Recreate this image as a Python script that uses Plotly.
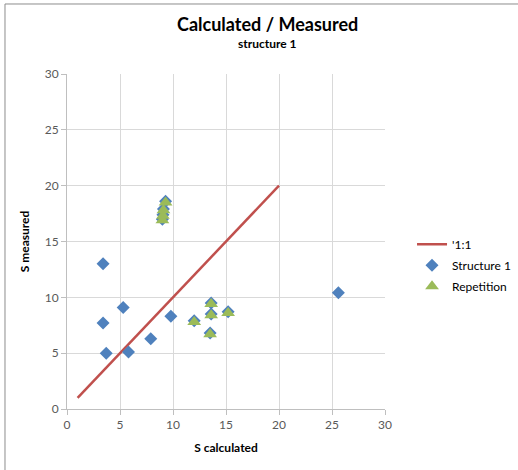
import plotly.graph_objects as go

# 1:1 reference line
line_x = [1, 20]
line_y = [1, 20]

# Structure 1 (blue diamonds)
struct_x = [3.4, 3.4, 3.7, 5.3, 5.8, 7.9, 9.8, 25.6,
            9.0, 9.05, 9.1, 9.3, 12.0, 13.6, 13.6, 13.5, 15.2]
struct_y = [13.0, 7.7, 5.0, 9.1, 5.1, 6.3, 8.3, 10.4,
            17.0, 17.4, 17.9, 18.6, 7.9, 9.5, 8.5, 6.8, 8.7]

# Repetition (green triangles)
rep_x = [9.0, 9.05, 9.1, 9.3, 12.0, 13.6, 13.6, 13.5, 15.2]
rep_y = [16.9, 17.3, 17.8, 18.5, 7.8, 9.4, 8.4, 6.7, 8.6]

font = "Lato, 'Open Sans', sans-serif"

fig = go.Figure()
fig.add_trace(go.Scatter(x=line_x, y=line_y, mode="lines", name="'1:1", legendgroup="a",
                         line=dict(color="#C0504D", width=2.5)))
fig.add_trace(go.Scatter(x=struct_x, y=struct_y, mode="markers", name="Structure 1", legendgroup="b",
                         marker=dict(symbol="diamond", size=10, color="#4F81BD")))
fig.add_trace(go.Scatter(x=rep_x, y=rep_y, mode="markers", name="Repetition", legendgroup="c",
                         marker=dict(symbol="triangle-up", size=12, color="#9BBB59")))

axis_common = dict(
    range=[0, 30], dtick=5, showgrid=True, gridcolor="#D9D9D9", gridwidth=1,
    showline=True, linecolor="#BFBFBF", linewidth=1, zeroline=False,
    ticks="outside", ticklen=5, tickcolor="#BFBFBF", automargin=False,
    tickfont=dict(family=font, size=12, color="#595959"),
)

fig.update_xaxes(**axis_common,
                 title=dict(text="<b>S calculated</b>", font=dict(family=font, size=12, color="#000"),
                            standoff=12))
fig.update_yaxes(**axis_common,
                 title=dict(text="<b>S measured</b>", font=dict(family=font, size=12, color="#000"),
                            standoff=12))

fig.update_layout(
    width=518, height=470,
    margin=dict(l=67, r=133, t=74, b=61, autoexpand=False),
    plot_bgcolor="white", paper_bgcolor="white",
    font=dict(family=font),
    legend=dict(x=1.085, xanchor="left", y=0.535, yanchor="top",
                font=dict(family=font, size=12, color="#000"),
                bgcolor="rgba(0,0,0,0)", traceorder="grouped", tracegroupgap=2),
    annotations=[
        dict(text="<b>Calculated / Measured</b>", xref="paper", yref="paper",
             x=0.629, y=1.149, xanchor="center", yanchor="middle", showarrow=False,
             font=dict(family=font, size=18, color="#000")),
        dict(text="<b>structure 1</b>", xref="paper", yref="paper",
             x=0.629, y=1.09, xanchor="center", yanchor="middle", showarrow=False,
             font=dict(family=font, size=12, color="#000")),
    ],
    shapes=[
        # outer chart frame (left and top edges)
        dict(type="line", xref="paper", yref="paper", x0=-0.195, x1=-0.195, y0=-0.3, y1=1.209,
             line=dict(color="#8C8C8C", width=1)),
        dict(type="line", xref="paper", yref="paper", x0=-0.195, x1=1.5, y0=1.209, y1=1.209,
             line=dict(color="#8C8C8C", width=1)),
    ],
)

# drop the default page margin so the figure sits at the window's corner
fig.write_html("out.html", config={"displayModeBar": False},
               post_script="document.body.style.margin='0';")
